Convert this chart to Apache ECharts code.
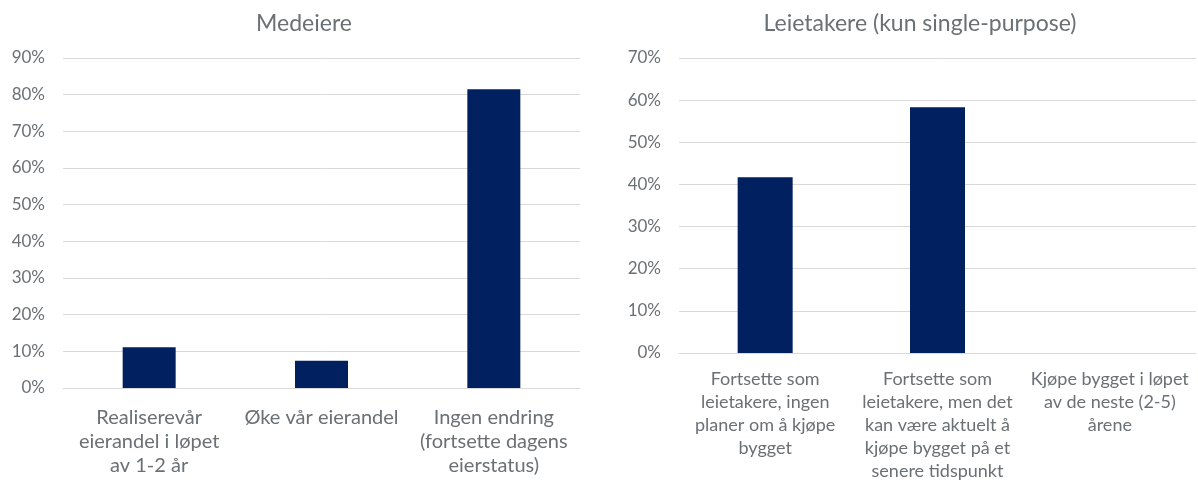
<!DOCTYPE html>
<html>
<head>
<meta charset="utf-8">
<script src="https://cdn.jsdelivr.net/npm/echarts@6/dist/echarts.min.js"></script>
<style>
  html, body { margin: 0; padding: 0; background: #fff; }
  #chart { width: 1198px; height: 486px; }
</style>
</head>
<body>
<div id="chart"></div>
<script>
// Medeiere (co-owners)
const ownerTitle = 'Medeiere';
const ownerCategories = [
  'Realiserevår\neierandel i løpet\nav 1-2 år',
  'Øke vår eierandel',
  'Ingen endring\n(fortsette dagens\neierstatus)'
];
const ownerValues = [11.1, 7.4, 81.5];
const ownerTicks = { min: 0, max: 90, interval: 10 };

// Leietakere (tenants, single-purpose only)
const tenantTitle = 'Leietakere (kun single-purpose)';
const tenantCategories = [
  'Fortsette som\nleietakere, ingen\nplaner om å kjøpe\nbygget',
  'Fortsette som\nleietakere, men det\nkan være aktuelt å\nkjøpe bygget på et\nsenere tidspunkt',
  'Kjøpe bygget i løpet\nav de neste (2-5)\nårene'
];
const tenantValues = [41.7, 58.3, 0];
const tenantTicks = { min: 0, max: 70, interval: 10 };

const textColor = '#6b7075';
const barColor = '#002060';
const gridColor = '#d9d9d9';
const fontFamily = 'Lato, "Open Sans", sans-serif';

function xAxisFor(gridIndex, cats, fontSize, margin, lineHeight) {
  return {
    type: 'category',
    gridIndex,
    data: cats,
    axisTick: { show: false },
    axisLine: { show: true, lineStyle: { color: gridColor, width: 1 } },
    axisLabel: {
      color: textColor, fontSize, fontFamily,
      interval: 0, margin, lineHeight, align: 'center'
    }
  };
}

function yAxisFor(gridIndex, t) {
  return {
    type: 'value',
    gridIndex,
    min: t.min, max: t.max, interval: t.interval,
    axisLine: { show: false },
    axisTick: { show: false },
    splitLine: { lineStyle: { color: gridColor, width: 1 } },
    axisLabel: {
      color: textColor, fontSize: 17, fontFamily, margin: 18,
      formatter: v => v + '%'
    }
  };
}

const chart = echarts.init(document.getElementById('chart'), null, { renderer: 'canvas' });
chart.setOption({
  animation: false,
  backgroundColor: '#ffffff',
  title: [
    { text: ownerTitle, left: 299, top: 7, textAlign: 'center',
      textStyle: { color: textColor, fontSize: 23, fontWeight: 'normal', fontFamily } },
    { text: tenantTitle, left: 915, top: 7, textAlign: 'center',
      textStyle: { color: textColor, fontSize: 23, fontWeight: 'normal', fontFamily } }
  ],
  grid: [
    { left: 63, right: 618, top: 58, bottom: 98, containLabel: false },
    { left: 679, right: 2, top: 58, bottom: 133, containLabel: false }
  ],
  xAxis: [
    xAxisFor(0, ownerCategories, 20, 18, 24),
    xAxisFor(1, tenantCategories, 18, 15, 23)
  ],
  yAxis: [
    yAxisFor(0, ownerTicks),
    yAxisFor(1, tenantTicks)
  ],
  series: [
    { type: 'bar', xAxisIndex: 0, yAxisIndex: 0, data: ownerValues,
      barWidth: 53, itemStyle: { color: barColor } },
    { type: 'bar', xAxisIndex: 1, yAxisIndex: 1, data: tenantValues,
      barWidth: 55, itemStyle: { color: barColor } }
  ]
});
</script>
</body>
</html>
